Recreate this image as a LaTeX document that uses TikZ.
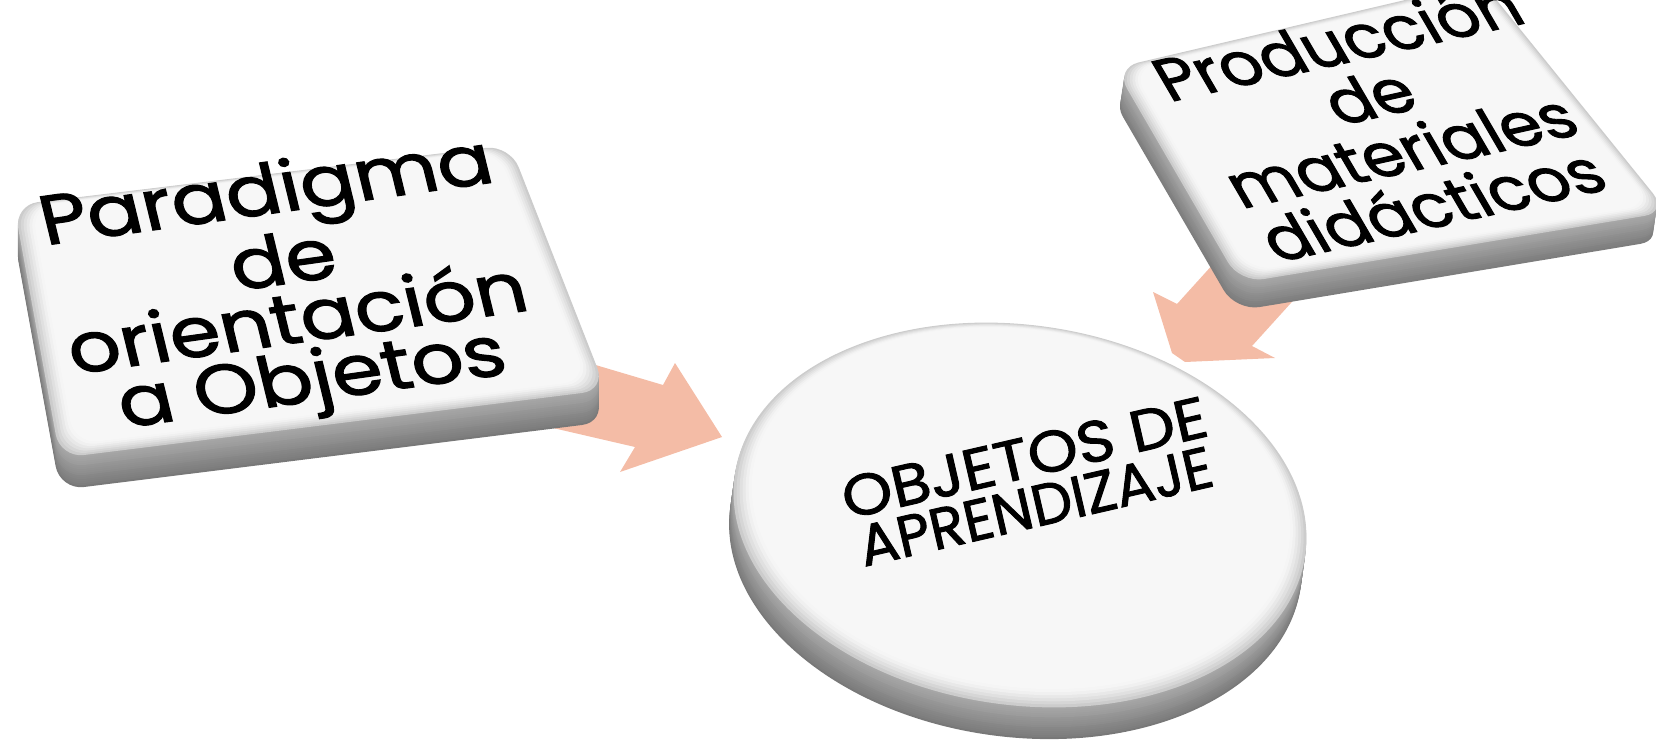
\documentclass[tikz,border=0pt]{standalone}
\usepackage{graphicx}
\usepackage{fontspec}
\setmainfont{Poppins}
\newfontfamily\heavyfont{Poppins}[FakeBold=1.6]
\definecolor{arrowc}{HTML}{F4BCA6}
\begin{document}
\begin{tikzpicture}[x=1pt,y=-1pt,
  boxtext/.style={align=center, inner sep=0pt, text=black},
  blockarrow/.style={fill=arrowc}]
\useasboundingbox (0,0) rectangle (1656,743);
\clip (0,0) rectangle (1656,743);
\def\faceL{(14,205) -- (510,145) -- (606,390) -- (60,458) -- cycle}
\def\faceR{(1115,68) -- (1482,-18) -- (1668,212) -- (1240,283) -- cycle}
% named anchor coordinates
\coordinate (cL) at (290,290);
\coordinate (cR) at (1384,122);
\coordinate (cC) at (1020,515);
% ---------- arrows (drawn under the boxes)
\fill[blockarrow] (545,350) -- (663,385) -- (675,363) -- (722,437) -- (620,472) -- (635,447) -- (540,425) -- cycle;
\fill[blockarrow] (1215,262) -- (1177,304) -- (1153,292) -- (1172,353) -- (1185,362) -- (1275,358) -- (1252,346) -- (1300,293) -- cycle;
% ---------- left box
\foreach \d in {32,30,...,2}{
  \pgfmathtruncatemacro\c{35+(\d-2)*0.6}
  \fill[black!\c, rounded corners=24, shift={(0,\d)}] \faceL;
}
\fill[black!20, rounded corners=24] \faceL;
\foreach \s/\c in {0.99/16,0.98/12,0.97/9,0.96/6,0.95/4,0.94/3}{
  \begin{scope}[shift={(300,230)}, scale=\s, shift={(-300,-230)}]
    \fill[black!\c, rounded corners=24] \faceL;
  \end{scope}
}
% ---------- right box
\foreach \d in {28,26,...,2}{
  \pgfmathtruncatemacro\c{35+(\d-2)*0.65}
  \fill[black!\c, rounded corners=24, shift={(-0.15*\d,\d)}] \faceR;
}
\fill[black!20, rounded corners=24] \faceR;
\foreach \s/\c in {0.99/16,0.98/12,0.97/9,0.96/6,0.95/4,0.94/3}{
  \begin{scope}[shift={(1390,90)}, scale=\s, shift={(-1390,-90)}]
    \fill[black!\c, rounded corners=24] \faceR;
  \end{scope}
}
% ---------- circle
\begin{scope}[shift={(cC)}, rotate=-8]
  \foreach \d in {32,30,...,2}{
    \pgfmathtruncatemacro\c{35+(\d-2)*0.6}
    \fill[black!\c] (0,\d) ellipse [x radius=288, y radius=190];
  }
  \fill[black!20] (0,0) ellipse [x radius=288, y radius=190];
  \foreach \s/\c in {0.99/16,0.98/12,0.97/9,0.96/6,0.95/4,0.94/3}{
    \pgfmathsetmacro\yy{-190*(1-\s)*0.6}
    \pgfmathsetmacro\rx{288*\s}
    \pgfmathsetmacro\ry{190*\s}
    \fill[black!\c] (0,\yy) ellipse [x radius=\rx, y radius=\ry];
  }
\end{scope}
% ---------- texts
\node[boxtext, rotate=8, xslant=-0.1, xscale=1.16,
  font=\heavyfont\fontsize{70}{60}\selectfont] (paradigma) at (cL)
  {Paradigma\\de\\orientación\\a Objetos};
\node[boxtext, rotate=12.5, xslant=-0.32, xscale=1.05,
  font=\heavyfont\fontsize{62}{60}\selectfont] (produccion) at (cR)
  {Producción\\de\\materiales\\didácticos};
\node[boxtext, rotate=13,
  font=\heavyfont\fontsize{58}{50}\selectfont] (objetos) at (1030,482)
  {\scalebox{1.1}[1]{OBJETOS DE}\\\scalebox{0.99}[1]{APRENDIZAJE}};
\end{tikzpicture}
\end{document}
